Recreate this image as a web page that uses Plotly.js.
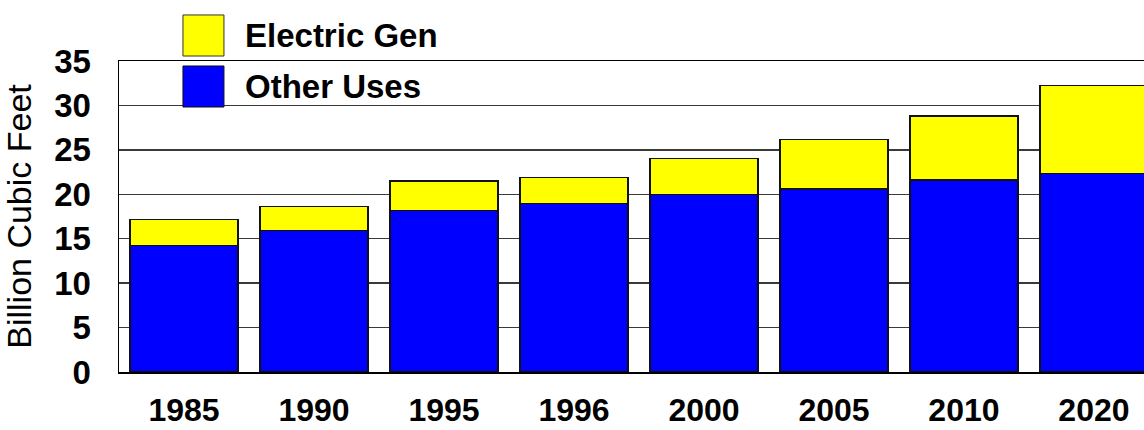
<!DOCTYPE html>
<html>
<head>
<meta charset="utf-8">
<script src="https://cdn.plot.ly/plotly-3.0.1.min.js"></script>
<style>html,body{margin:0;padding:0;background:#fff;overflow:hidden}</style>
</head>
<body>
<div id="chart" style="width:1144px;height:430px"></div>
<script>
const years = ["1985","1990","1995","1996","2000","2005","2010","2020"];
const otherUses = [14.2, 15.9, 18.15, 19.0, 19.95, 20.6, 21.6, 22.3];
const electricGen = [3.0, 2.75, 3.35, 2.9, 4.05, 5.6, 7.2, 9.9];
const seriesNames = ["Electric Gen", "Other Uses"];
const seriesColors = ["#ffff00", "#0000ff"];
const yTicks = [0, 5, 10, 15, 20, 25, 30, 35];

const FONT = "Liberation Sans, Arial, Helvetica, sans-serif";

const traces = [
  {type: "bar", name: seriesNames[1], x: years, y: otherUses,
   marker: {color: seriesColors[1], line: {color: "#111", width: 1.2}}, hoverinfo: "skip"},
  {type: "bar", name: seriesNames[0], x: years, y: electricGen,
   marker: {color: seriesColors[0], line: {color: "#111", width: 1.2}}, hoverinfo: "skip"}
];

const layout = {
  width: 1144, height: 430,
  margin: {l: 119, r: 0, t: 61, b: 58, pad: 0},
  paper_bgcolor: "#fff", plot_bgcolor: "#fff",
  barmode: "stack", bargap: 0.17,
  showlegend: false,
  font: {family: FONT, color: "#000"},
  xaxis: {
    type: "category", range: [-0.5, 7.385],
    showline: true, linecolor: "#000", linewidth: 1.5, mirror: true,
    showgrid: false, ticks: "", ticklabelstandoff: 9,
    tickfont: {family: FONT, size: 32, weight: "bold", color: "#000"},
    fixedrange: true
  },
  yaxis: {
    range: [0, 35], tickvals: yTicks, ticktext: yTicks.map(String),
    showline: true, linecolor: "#000", linewidth: 1.5, mirror: false,
    showgrid: true, gridcolor: "#3a3a3a", gridwidth: 1.5,
    zeroline: false, ticks: "", ticklabelstandoff: 20,
    tickfont: {family: FONT, size: 33, weight: "bold", color: "#000"},
    title: {text: "Billion Cubic Feet", font: {family: FONT, size: 34, color: "#000"}, standoff: 12},
    fixedrange: true
  },
  shapes: [
    {type: "rect", xref: "paper", yref: "paper", layer: "above",
     x0: 0.0624, x1: 0.1024, y0: 1.016, y1: 1.148,
     fillcolor: seriesColors[0], line: {color: "#333", width: 1}},
    {type: "rect", xref: "paper", yref: "paper", layer: "above",
     x0: 0.0624, x1: 0.1024, y0: 0.852, y1: 0.984,
     fillcolor: seriesColors[1], line: {color: "#111", width: 1}}
  ],
  annotations: [
    {xref: "paper", yref: "paper", x: 0.121, y: 1.083, xanchor: "left", yanchor: "middle",
     text: seriesNames[0], showarrow: false,
     font: {family: FONT, size: 33, weight: "bold", color: "#000"}},
    {xref: "paper", yref: "paper", x: 0.121, y: 0.919, xanchor: "left", yanchor: "middle",
     text: seriesNames[1], showarrow: false,
     font: {family: FONT, size: 33, weight: "bold", color: "#000"}}
  ]
};

Plotly.newPlot("chart", traces, layout, {displayModeBar: false, staticPlot: true});
</script>
</body>
</html>
